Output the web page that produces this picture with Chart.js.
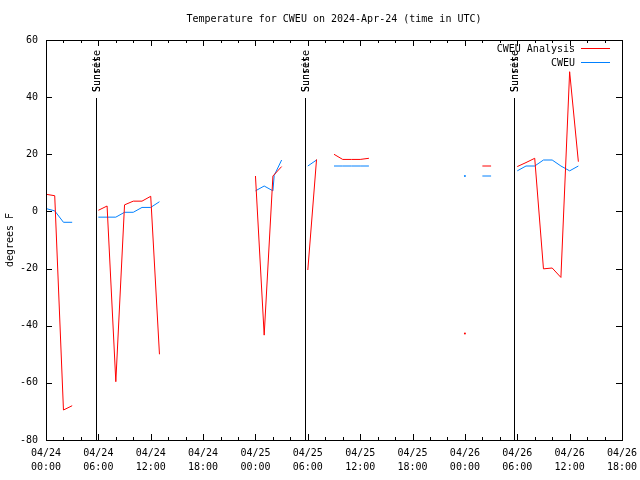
<!DOCTYPE html>
<html><head><meta charset="utf-8">
<script src="https://cdn.jsdelivr.net/npm/chart.js@4.4.0/dist/chart.umd.min.js"></script>
<style>html,body{margin:0;padding:0;background:#fff}#wrap{width:640px;height:480px}</style>
</head><body><div id="wrap"><canvas id="c" width="640" height="480"></canvas></div>
<script>
const chartTitle = "Temperature for CWEU on 2024-Apr-24 (time in UTC)";
const yAxisTitle = "degrees F";
const seriesNames = ["CWEU Analysis", "CWEU"];
const dayLabels = ["04/24", "04/25", "04/26"];
// hours since 2024-04-24 00:00 UTC; null = gap in the record
const analysisHours = [0, 1, 2, 3, 4, 6, 7, 8, 9, 10, 11, 12, 13, 14, 24, 25, 26, 27, 28, 30, 31, 32, 33, 34, 35, 36, 37, 38, 48, 49, 50, 51, 52, 54, 55, 56, 57, 58, 59, 60, 61];
const analysisTemps = [6.0, 5.5, -69.5, -68.0, null, 0.4, 1.9, -59.6, 2.3, 3.6, 3.6, 5.3, -50.0, null, 12.4, -43.3, 12.4, 15.7, null, -20.5, 18.2, null, 20.0, 18.2, 18.2, 18.2, 18.6, null, -42.7, null, 15.9, 15.9, null, 15.7, 17.1, 18.6, -20.1, -19.8, -23.1, 48.9, 17.4];
const obsHours = [0, 1, 2, 3, 4, 6, 7, 8, 9, 10, 11, 12, 13, 14, 24, 25, 26, 26.15, 27, 28, 30, 31, 32, 33, 34, 35, 36, 37, 38, 48, 49, 50, 51, 52, 54, 55, 56, 57, 58, 59, 60, 61];
const obsTemps = [1.0, 0.2, -3.8, -3.8, null, -2.0, -2.0, -2.0, -0.3, -0.3, 1.4, 1.4, 3.4, null, 7.2, 8.9, 7.2, 12.6, 18.0, null, 15.9, 18.0, null, 15.9, 15.9, 15.9, 15.9, 15.9, null, 12.4, null, 12.4, 12.4, null, 14.2, 15.9, 15.9, 18.0, 18.0, 15.9, 14.2, 15.9];
const sunHours = [5.73, 29.71, 53.66];
const sunLabels = ["Sunrise", "Sunset"];
const xTickHours = [0, 6, 12, 18, 24, 30, 36, 42, 48, 54, 60, 66];
const yTickValues = [-80, -60, -40, -20, 0, 20, 40, 60];

const FONT = "DejaVu Sans Mono";
const RED = "#ff0000", BLUE = "#0080ff";

function pts(hs, vs) { return hs.map((h, i) => ({ x: h, y: vs[i] })); }
function isoRadius(ctx) {
  const d = ctx.dataset.data, i = ctx.dataIndex;
  if (!d[i] || d[i].y == null) return 0;
  const p = d[i - 1], n = d[i + 1];
  return ((!p || p.y == null) && (!n || n.y == null)) ? 1 : 0;
}
function hourLabel(v) {
  const day = dayLabels[Math.floor(v / 24)];
  const hh = String(v % 24).padStart(2, "0");
  return [day, hh + ":00"];
}

const decor = {
  id: "decor",
  afterDatasetsDraw(chart) {
    const c = chart.ctx, a = chart.chartArea, xs = chart.scales.x, ys = chart.scales.y;
    c.save();
    c.strokeStyle = "#000"; c.lineWidth = 1;
    c.strokeRect(Math.round(a.left) + 0.5, Math.round(a.top) + 0.5, Math.round(a.right - a.left), Math.round(a.bottom - a.top));
    c.beginPath();
    for (let h = 0; h <= 66; h += 2) {
      const px = Math.round(xs.getPixelForValue(h)) + 0.5;
      const len = (h % 6 === 0) ? 6 : 3;
      c.moveTo(px, a.bottom); c.lineTo(px, a.bottom - len);
      c.moveTo(px, a.top); c.lineTo(px, a.top + len);
    }
    yTickValues.forEach(v => {
      const py = Math.round(ys.getPixelForValue(v)) + 0.5;
      c.moveTo(a.left, py); c.lineTo(a.left + 6, py);
      c.moveTo(a.right, py); c.lineTo(a.right - 6, py);
    });
    c.stroke();
    c.font = "10px " + FONT; c.fillStyle = "#000";
    sunHours.forEach(h => {
      const px = Math.round(xs.getPixelForValue(h)) + 0.5;
      c.beginPath(); c.moveTo(px, 98); c.lineTo(px, a.bottom); c.stroke();
      sunLabels.forEach(t => {
        c.save(); c.translate(px + 1, 92); c.rotate(-Math.PI / 2);
        c.textAlign = "left"; c.textBaseline = "middle"; c.fillText(t, 0, 0); c.restore();
      });
    });
    c.textAlign = "right"; c.textBaseline = "middle";
    chart.data.datasets.forEach((ds, i) => {
      const y = 49 + i * 14;
      c.fillStyle = "#000"; c.fillText(ds.label, 575, y);
      c.strokeStyle = ds.borderColor; c.beginPath();
      c.moveTo(581, y - 0.5); c.lineTo(610, y - 0.5); c.stroke();
    });
    c.fillStyle = "#000"; c.textAlign = "center"; c.textBaseline = "middle";
    c.fillText(chartTitle, (a.left + a.right) / 2, 19);
    c.restore();
  }
};

new Chart(document.getElementById("c"), {
  type: "line",
  data: {
    datasets: [
      { label: seriesNames[0], data: pts(analysisHours, analysisTemps), borderColor: RED, backgroundColor: RED,
        borderWidth: 1, pointRadius: isoRadius, pointBorderWidth: 0, pointBackgroundColor: RED, spanGaps: false, tension: 0 },
      { label: seriesNames[1], data: pts(obsHours, obsTemps), borderColor: BLUE, backgroundColor: BLUE,
        borderWidth: 1, pointRadius: isoRadius, pointBorderWidth: 0, pointBackgroundColor: BLUE, spanGaps: false, tension: 0 }
    ]
  },
  options: {
    responsive: false, animation: false, devicePixelRatio: 1,
    layout: { padding: { top: 40, right: 18, left: 0, bottom: 0 } },
    plugins: { legend: { display: false }, title: { display: false }, tooltip: { enabled: false } },
    scales: {
      x: {
        type: "linear", min: 0, max: 66,
        afterBuildTicks: s => { s.ticks = xTickHours.map(v => ({ value: v })); },
        ticks: { callback: v => hourLabel(v), font: { family: FONT, size: 10, lineHeight: 1.4 }, color: "#000", padding: 6, maxRotation: 0, autoSkip: false },
        grid: { display: false, drawTicks: false }, border: { display: false },
        afterFit: s => { s.height = 40; s.paddingLeft = 0; s.paddingRight = 0; }
      },
      y: {
        min: -80, max: 60,
        afterBuildTicks: s => { s.ticks = yTickValues.map(v => ({ value: v })); },
        ticks: { font: { family: FONT, size: 10 }, color: "#000", padding: 8 },
        grid: { display: false, drawTicks: false }, border: { display: false },
        title: { display: true, text: yAxisTitle, color: "#000", font: { family: FONT, size: 10 }, padding: { top: 4, bottom: 0 } },
        afterFit: s => { s.width = 46; s.paddingTop = 0; s.paddingBottom = 0; }
      }
    }
  },
  plugins: [decor]
});
</script></body></html>
